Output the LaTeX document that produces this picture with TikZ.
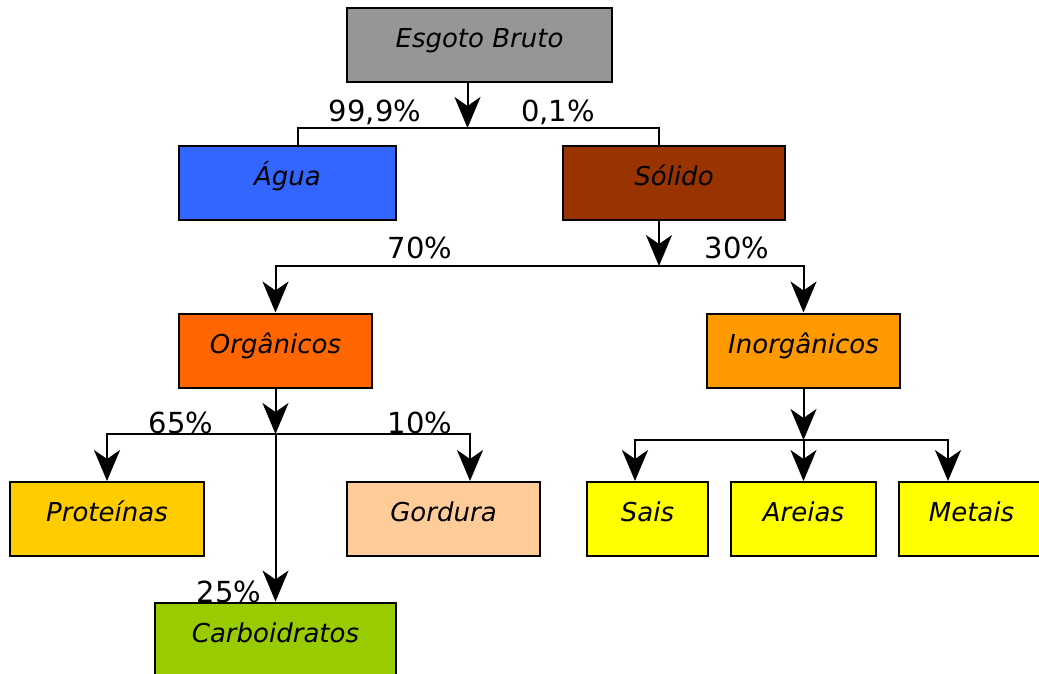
\documentclass[tikz,border=0pt]{standalone}
\usepackage{fontspec}
\setmainfont{DejaVu Sans}
\usepackage{tikz}
\usetikzlibrary{arrows.meta}
\definecolor{cinza}{HTML}{969696}
\definecolor{azul}{HTML}{3366FF}
\definecolor{marrom}{HTML}{993300}
\definecolor{laranja}{HTML}{FF6600}
\definecolor{laranjaclaro}{HTML}{FF9900}
\definecolor{ouro}{HTML}{FFCC00}
\definecolor{pele}{HTML}{FFCC99}
\definecolor{verde}{HTML}{99CC00}
\definecolor{amarelo}{HTML}{FFFF00}
\tikzset{
  caixa/.style = {shape=rectangle, draw, line width=2pt, inner sep=0pt,
         minimum height=74pt, text height=20pt, text depth=15pt,
         font=\fontsize{26}{30}\selectfont\itshape},
  seta/.style  = {draw, line width=2pt, -{Stealth[length=31pt, width=26pt, inset=9pt]}},
  linha/.style = {draw, line width=2pt},
  rotulo/.style = {anchor=base, inner sep=0pt, font=\fontsize{29}{32}\selectfont}
}
\begin{document}
\begin{tikzpicture}[x=1pt, y=-1pt]
  \useasboundingbox (0,0) rectangle (1039,673);
  \clip (0,0) rectangle (1039,673);
  % caixas
  \node [caixa, fill=cinza, minimum width=265pt] (esgoto) at (479.5,45) {Esgoto Bruto};
  \node [caixa, fill=azul, minimum width=217pt] (agua) at (287.5,182.5) {Água};
  \node [caixa, fill=marrom, minimum width=222pt] (solido) at (674,182.5) {Sólido};
  \node [caixa, fill=laranja, minimum width=193pt] (organicos) at (275.5,350.5) {Orgânicos};
  \node [caixa, fill=laranjaclaro, minimum width=193pt] (inorganicos) at (803.5,350.5) {Inorgânicos};
  \node [caixa, fill=ouro, minimum width=194pt] (proteinas) at (107,519) {Proteínas};
  \node [caixa, fill=pele, minimum width=193pt] (gordura) at (443.5,519) {Gordura};
  \node [caixa, fill=verde, minimum width=241pt] (carboidratos) at (275.5,639.5) {Carboidratos};
  \node [caixa, fill=amarelo, minimum width=121pt] (sais) at (647.5,519) {Sais};
  \node [caixa, fill=amarelo, minimum width=145pt] (areias) at (803.5,519) {Areias};
  \node [caixa, fill=amarelo, minimum width=145pt] (metais) at (971.5,519) {Metais};
  % juncoes
  \coordinate (j1) at (467.5,128);
  \coordinate (j2) at (659,266);
  \coordinate (j3) at (organicos.south |- 0,434);
  \coordinate (j4) at (inorganicos.south |- 0,440);
  % ligacoes
  \draw [seta] ([xshift=-12pt]esgoto.south) -- (j1);
  \draw [linha] ([xshift=10.5pt]agua.north) |- (j1) -| ([xshift=-15pt]solido.north);
  \draw [seta] ([xshift=-15pt]solido.south) -- (j2);
  \draw [seta] (j2) -| (organicos.north);
  \draw [seta] (j2) -| (inorganicos.north);
  \draw [seta] (organicos.south) -- (j3);
  \draw [seta] (j3) -| (proteinas.north);
  \draw [seta] (j3) -| ([xshift=26.5pt]gordura.north);
  \draw [seta] (j3) -- (carboidratos.north);
  \draw [seta] (inorganicos.south) -- (j4);
  \draw [seta] (j4) -| ([xshift=-12.5pt]sais.north);
  \draw [seta] (j4) -- (areias.north);
  \draw [seta] (j4) -| ([xshift=-23.5pt]metais.north);
  % percentuais
  \node [rotulo] (p999) at (375,121) {99,9\%};
  \node [rotulo] (p01) at (558,121) {0,1\%};
  \node [rotulo] (p70) at (420,258) {70\%};
  \node [rotulo] (p30) at (737,258) {30\%};
  \node [rotulo] (p65) at (181,433) {65\%};
  \node [rotulo] (p10) at (420,433) {10\%};
  \node [rotulo] (p25) at (229,602) {25\%};
\end{tikzpicture}
\end{document}
